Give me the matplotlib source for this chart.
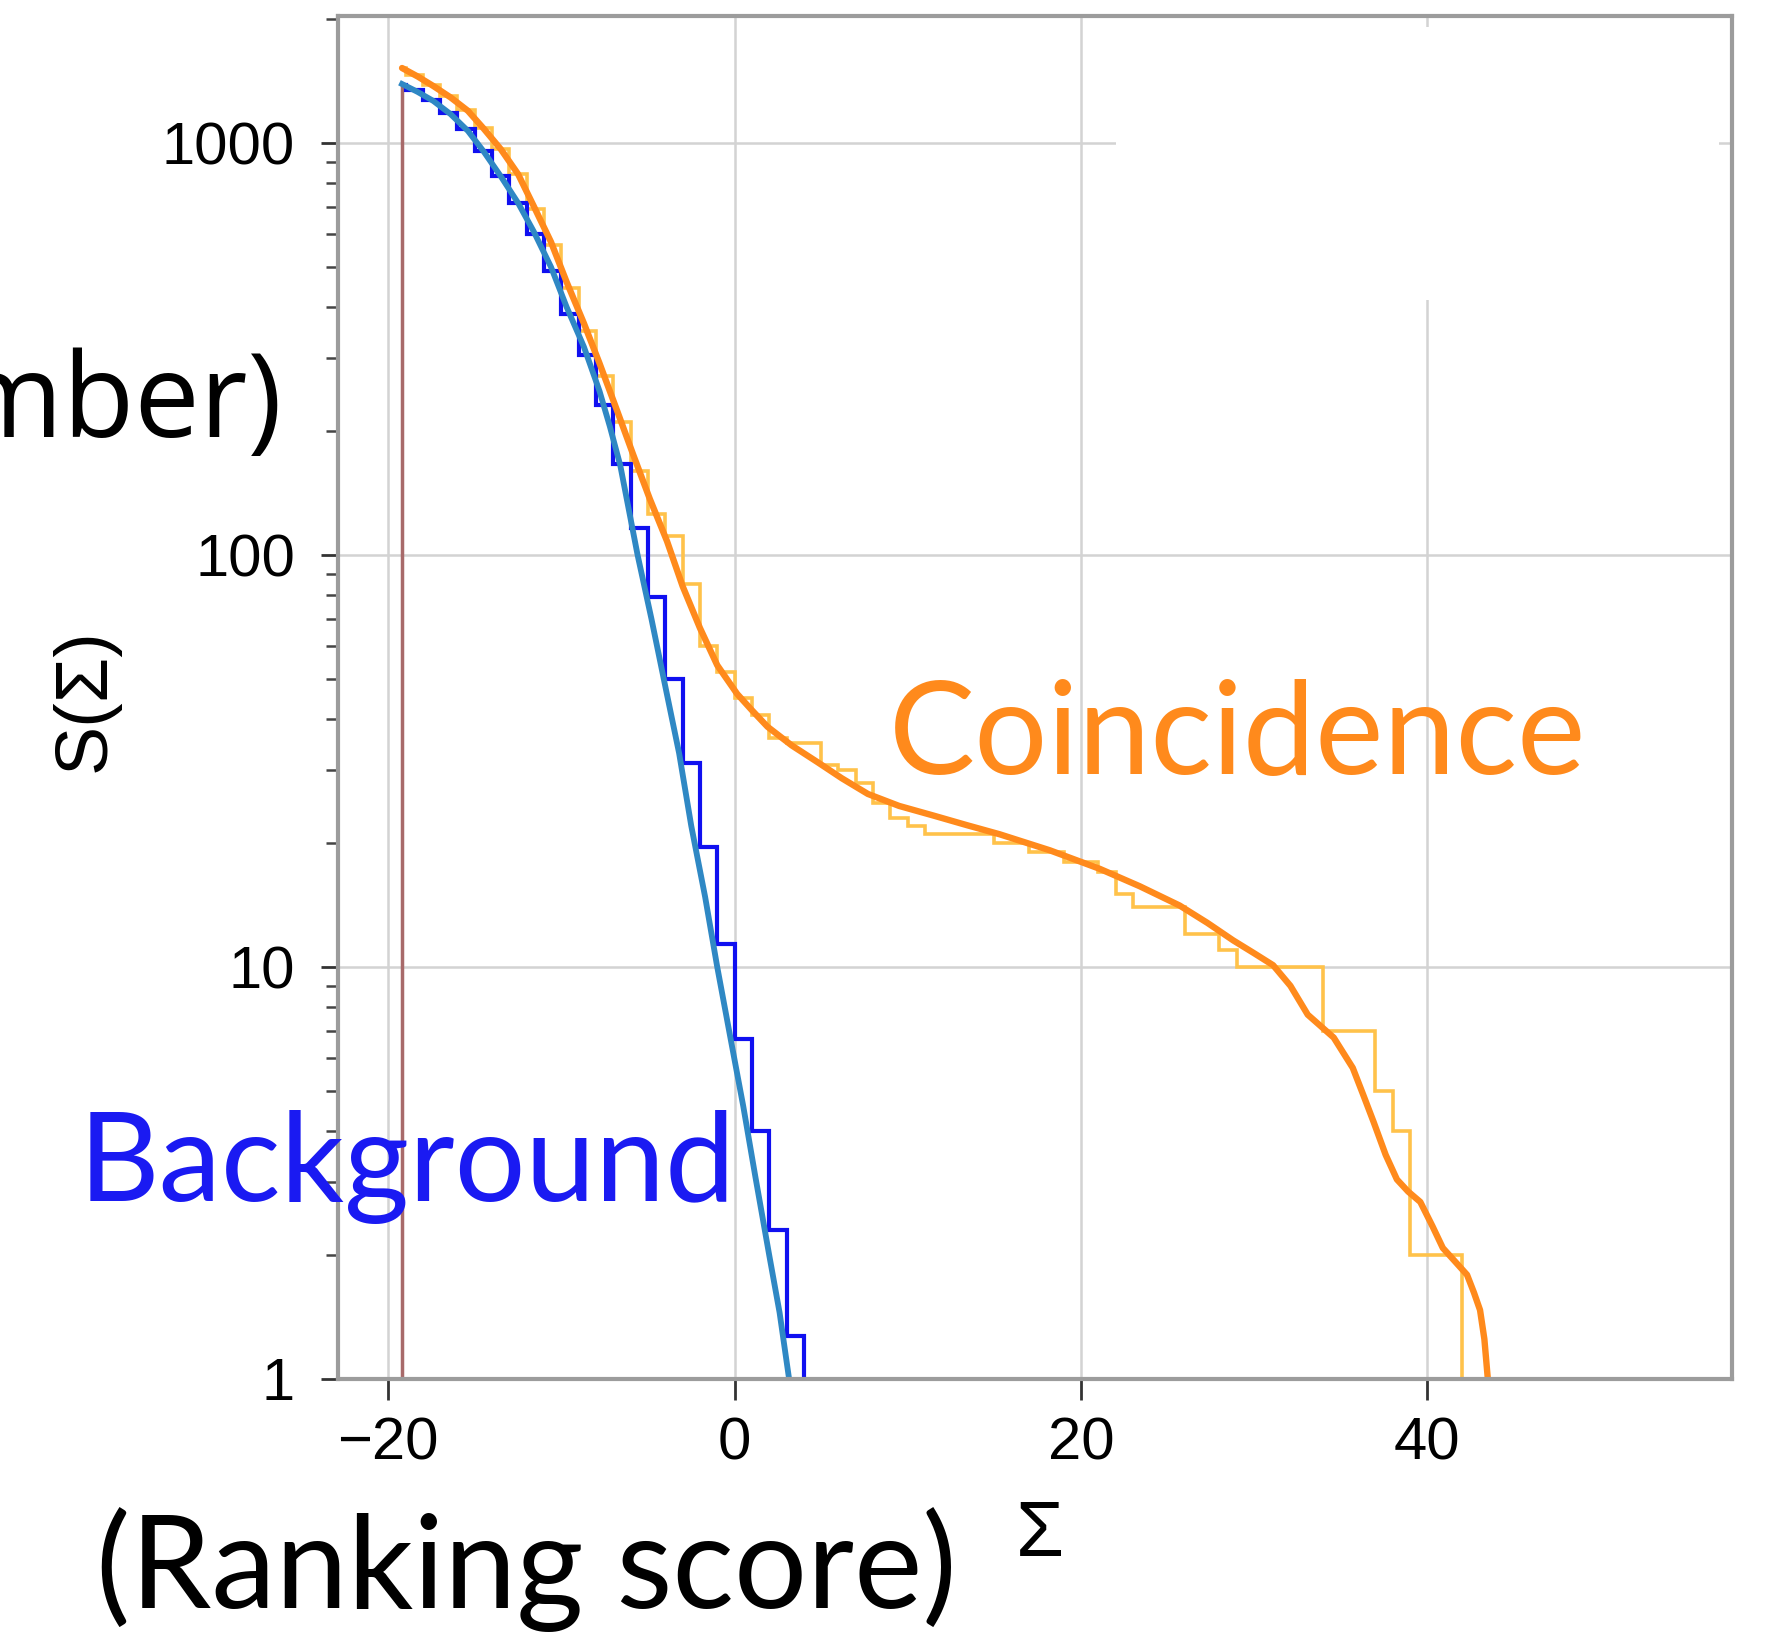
import matplotlib
matplotlib.use("Agg")
import matplotlib.pyplot as plt
from matplotlib.patches import Rectangle
from matplotlib.ticker import FixedLocator, LogLocator, NullFormatter

W, H, DPI = 1768, 1639, 100

# ranking-score threshold; histogram bins are one unit wide above it
threshold = -19.2
bkg_edges = [threshold] + list(range(-19, 6))
bkg_counts = [1385, 1345, 1270, 1185, 1080, 955, 830, 715, 600, 490, 385, 305,
              231, 166, 116, 79, 50, 31.3, 19.5, 11.4, 6.7, 4.0, 2.3, 1.27, 0]

coinc_edges = [threshold] + list(range(-19, 44))
coinc_counts = [1520, 1460, 1385, 1300, 1205, 1085, 966, 840, 690, 565, 445, 350,
                272, 210, 160, 126, 111, 85, 60, 52, 45, 41, 36, 35, 35, 31, 30, 28,
                25, 23, 22, 21, 21, 21, 21, 20, 20, 19, 19, 18, 18, 17, 15, 14, 14,
                14, 12, 12, 11, 10, 10, 10, 10, 10, 7, 7, 7, 5, 4, 2, 2, 2, 0]

# smooth estimates of the survival function
bkg_fit_x = [-19.2, -18.3, -17.4, -16.4, -15.4, -14.5, -13.5, -12.5, -11.6, -10.6,
             -9.7, -8.7, -7.8, -7.2, -6.6, -5.6, -4.8, -4.0, -3.2, -2.5, -1.7, -1.0,
             -0.2, 0.5, 1.2, 2.0, 2.6, 3.15]
bkg_fit_y = [1390, 1330, 1265, 1175, 1070, 955, 830, 715, 610, 500, 400, 320, 250,
             205, 165, 100, 70, 48, 33, 22, 14.8, 10, 6.6, 4.6, 3.1, 2.0, 1.45, 1.0]

coinc_fit_x = [-19.2, -18.3, -17.4, -16.4, -15.4, -14.5, -13.5, -12.5, -11.6, -10.6,
               -9.7, -8.7, -7.8, -6.8, -5.85, -4.9, -3.9, -3.0, -2.0, -1.0, 0.15, 1.0,
               1.9, 3.3, 4.8, 6.2, 7.7, 9.5, 11.5, 13.4, 15.3, 18.2, 21.1, 23.4, 25.7,
               27.3, 28.8, 30.0, 31.1, 32.1, 33.1, 34.6, 35.7, 36.3, 36.9, 37.6, 38.25,
               38.9, 39.6, 40.3, 40.9, 41.6, 42.3, 42.7, 43.05, 43.3, 43.5]
coinc_fit_y = [1520, 1450, 1375, 1290, 1197, 1085, 966, 840, 703, 575, 460, 365, 292,
               225, 175, 137, 108, 84, 66.5, 54, 46, 42, 38.3, 34.5, 31.4, 28.7, 26.3,
               24.6, 23.3, 22.1, 21.0, 19.2, 17.3, 15.7, 14.1, 12.8, 11.6, 10.8, 10.1,
               9.0, 7.66, 6.74, 5.69, 4.9, 4.21, 3.5, 3.05, 2.85, 2.69, 2.35, 2.08,
               1.93, 1.79, 1.62, 1.47, 1.25, 1.0]

x_ticks = [-20, 0, 20, 40]
y_ticks = [1, 10, 100, 1000]
y_tick_labels = ["1", "10", "100", "1000"]

plt.rcParams["font.family"] = ["Liberation Sans", "DejaVu Sans"]

fig = plt.figure(figsize=(W / DPI, H / DPI), dpi=DPI)
ax = fig.add_axes([338 / W, 1 - 1379 / H, (1732 - 338) / W, (1379 - 16) / H])

ax.set_yscale("log")
ax.set_xlim(-22.9, 57.6)
ax.set_ylim(1, 2033)

ax.xaxis.set_major_locator(FixedLocator(x_ticks))
ax.yaxis.set_major_locator(FixedLocator(y_ticks))
ax.set_yticklabels(y_tick_labels)
ax.yaxis.set_minor_locator(LogLocator(base=10, subs=range(2, 10)))
ax.yaxis.set_minor_formatter(NullFormatter())

ax.grid(True, which="major", color="#d3d3d3", linewidth=1.8)
ax.tick_params(axis="x", which="major", length=15, width=2, color="#333333",
               direction="out", pad=12, labelsize=43)
ax.tick_params(axis="y", which="major", length=12, width=2, color="#333333",
               direction="out", pad=19, labelsize=43)
ax.tick_params(axis="y", which="minor", length=9, width=1.8, color="#444444",
               direction="out")
for spine in ax.spines.values():
    spine.set_color("#9c9c9c")
    spine.set_linewidth(3)

# blank panel over the upper right corner of the frame
ax.add_patch(Rectangle((0.558, 0.792), 0.433, 0.2, transform=ax.transAxes,
                       facecolor="white", edgecolor="none", zorder=1.6))

ax.vlines(threshold, 1, bkg_fit_y[0], color="#a86a6a", linewidth=2.5, zorder=2)
ax.stairs(coinc_counts, coinc_edges, baseline=None, color="#ffc24a",
          linewidth=2.6, zorder=2.1)
ax.stairs(bkg_counts, bkg_edges, baseline=None, color="#1010f0",
          linewidth=3.0, zorder=2.2)
ax.plot(bkg_fit_x, bkg_fit_y, color="#2f88c4", linewidth=4.2, zorder=2.3)
ax.plot(coinc_fit_x, coinc_fit_y, color="#ff8a1c", linewidth=4.6, zorder=2.4,
        solid_capstyle="round")


def fig_px(x, y):
    return x / W, 1 - y / H


fig.text(*fig_px(85, 700), "S(\u03a3)", rotation=90, ha="center", va="center",
         fontsize=53)
fig.text(*fig_px(1040, 1535), "\u03a3", ha="center", va="center", fontsize=56)

# slide captions; the left one runs past the edge of the page
lato = ["Lato", "DejaVu Sans"]
fig.text(*fig_px(282, 437), "(Number)", ha="right", va="baseline", color="black",
         family=["Open Sans", "DejaVu Sans"], fontsize=84)
fig.text(*fig_px(79, 1201), "Background", ha="left", va="baseline",
         color="#1a1af2", family=lato, fontsize=90)
fig.text(*fig_px(889, 774), "Coincidence", ha="left", va="baseline",
         color="#ff8a1c", family=lato, fontsize=93)
fig.text(*fig_px(96, 1608), "(Ranking score)", ha="left", va="baseline",
         color="black", family=lato, fontsize=93)

fig.savefig("out.png", dpi=DPI, facecolor="white")
